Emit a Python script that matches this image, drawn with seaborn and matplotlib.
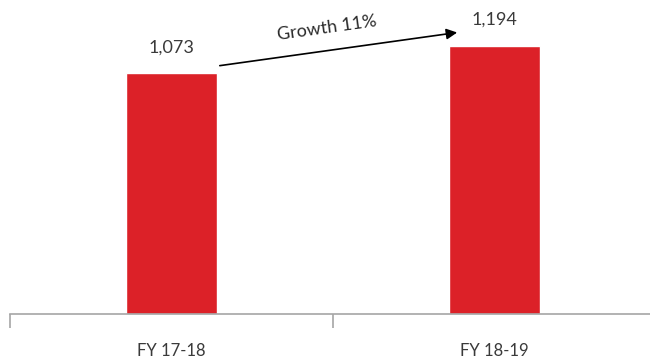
import numpy as np
import pandas as pd
import seaborn as sns
import matplotlib.pyplot as plt
from matplotlib.ticker import FixedLocator

sns.set_style("white")
plt.rcParams['font.family'] = ['Lato', 'DejaVu Sans']

years = ['FY 17-18', 'FY 18-19']
values = [1073, 1194]
growth_label = 'Growth 11%'

d = pd.DataFrame({'year': years, 'value': values})

fig = plt.figure(figsize=(6.5, 3.58), dpi=100)
ax = fig.add_axes([10 / 650, 44 / 358, 646 / 650, 314 / 358])

sns.barplot(data=d, x='year', y='value', color='#DC2128', saturation=1,
            width=0.28, ax=ax)

ax.set_xlim(-0.5, 1.5)
ax.set_ylim(0, 1398)

# value labels on top of bars
for i, v in enumerate(values):
    ax.text(i, v + 115, f'{v:,}', ha='center', va='center', fontsize=13,
            color='#3a3a3a')

# growth arrow between the bars
ax.annotate('', xy=(0.893, values[1] + 61), xytext=(0.141, values[0] + 31),
            arrowprops=dict(arrowstyle='-|>', color='black', lw=1.2,
                            mutation_scale=16))
ax.text(0.48, values[0] + 200, growth_label, ha='center', va='center',
        rotation=8, fontsize=13, color='#2a2a2a')

# axis styling
for s in ['top', 'right', 'left']:
    ax.spines[s].set_visible(False)
ax.spines['bottom'].set_color('#a6a6a6')
ax.spines['bottom'].set_linewidth(1.2)
ax.set_yticks([])
ax.set_xlabel('')
ax.set_ylabel('')
ax.xaxis.set_minor_locator(FixedLocator([-0.5, 0.5, 1.5]))
ax.tick_params(axis='x', which='major', length=0, pad=27, labelsize=12,
               labelcolor='#3a3a3a')
for lbl in ax.get_xticklabels():
    lbl.set_verticalalignment('center')
ax.tick_params(axis='x', which='minor', length=10, width=1.2,
               color='#a6a6a6', direction='out', bottom=True)

fig.savefig('out.png', dpi=100)
